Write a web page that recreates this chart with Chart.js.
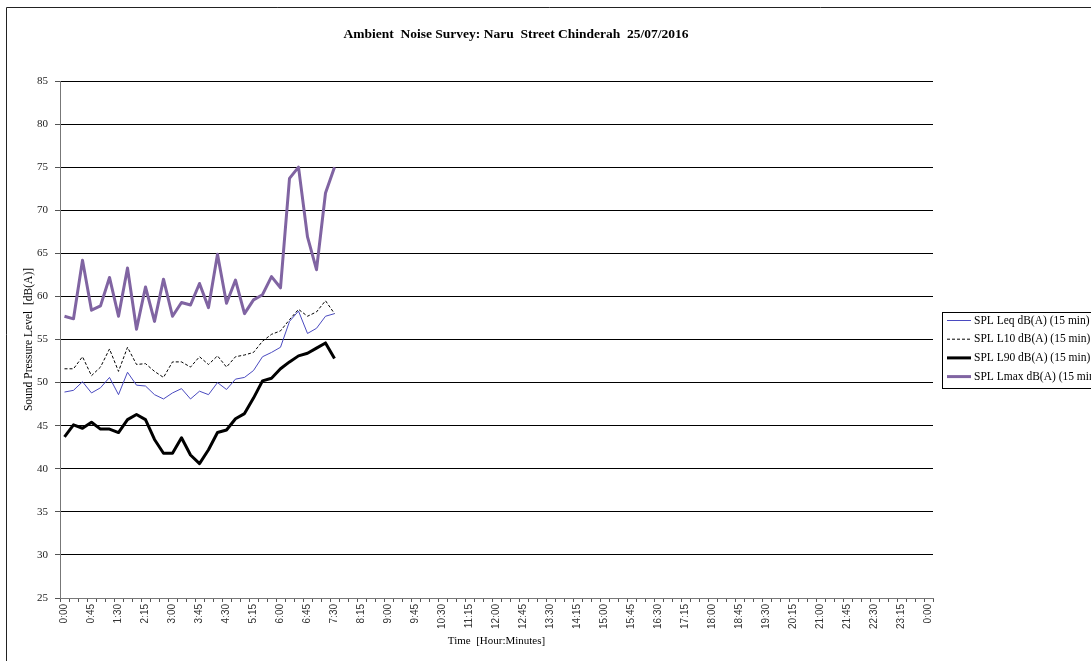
<!DOCTYPE html>
<html>
<head>
<meta charset="utf-8">
<script src="https://cdn.jsdelivr.net/npm/chart.js@4.4.1/dist/chart.umd.min.js"></script>
<style>
  html, body { margin: 0; padding: 0; background: #fff; overflow: hidden; }
  #wrap { width: 1091px; height: 661px; position: relative; }
</style>
</head>
<body>
<div id="wrap"><canvas id="c" width="1091" height="661"></canvas></div>
<script>
// ---- Data (15-minute intervals starting 0:00) ----
const chartTitle = 'Ambient  Noise Survey: Naru  Street Chinderah  25/07/2016';
const xAxisTitle = 'Time  [Hour:Minutes]';
const yAxisTitle = 'Sound Pressure Level  [dB(A)]';

// category axis: 0:00 to 0:00 next day every 15 minutes
const categories = [];
for (let m = 0; m <= 24 * 60; m += 15) {
  const h = Math.floor(m / 60) % 24, mm = m % 60;
  categories.push(h + ':' + (mm < 10 ? '0' : '') + mm);
}
// labels shown every 45 minutes
const tickLabels = ['0:00','0:45','1:30','2:15','3:00','3:45','4:30','5:15','6:00','6:45','7:30','8:15',
  '9:00','9:45','10:30','11:15','12:00','12:45','13:30','14:15','15:00','15:45','16:30','17:15',
  '18:00','18:45','19:30','20:15','21:00','21:45','22:30','23:15','0:00'];

const seriesNames = ['SPL Leq dB(A) (15 min)', 'SPL L10 dB(A) (15 min)', 'SPL L90 dB(A) (15 min)', 'SPL Lmax dB(A) (15 min)'];

const leq  = [48.9, 49.1, 50.1, 48.8, 49.4, 50.6, 48.6, 51.2, 49.7, 49.6, 48.6, 48.1, 48.8, 49.3, 48.1, 49.0,
              48.6, 50.0, 49.2, 50.4, 50.6, 51.4, 53.0, 53.5, 54.1, 57.1, 58.3, 55.7, 56.3, 57.7, 58.0];
const l10  = [51.6, 51.6, 53.0, 50.8, 51.8, 53.9, 51.3, 54.1, 52.1, 52.2, 51.3, 50.6, 52.4, 52.4, 51.8, 53.0,
              52.1, 53.1, 51.8, 53.0, 53.2, 53.5, 54.8, 55.6, 56.0, 57.3, 58.5, 57.7, 58.2, 59.5, 58.0];
const l90  = [43.7, 45.1, 44.7, 45.4, 44.6, 44.6, 44.2, 45.7, 46.3, 45.7, 43.4, 41.8, 41.8, 43.6, 41.6, 40.6,
              42.2, 44.2, 44.5, 45.8, 46.4, 48.2, 50.2, 50.5, 51.6, 52.4, 53.1, 53.4, 54.0, 54.6, 52.8];
const lmax = [57.7, 57.4, 64.2, 58.4, 58.9, 62.2, 57.7, 63.3, 56.2, 61.1, 57.1, 62.0, 57.7, 59.3, 59.0, 61.5,
              58.7, 64.9, 59.2, 61.9, 58.0, 59.6, 60.2, 62.3, 61.0, 73.7, 75.0, 66.9, 63.1, 72.0, 75.0];

const yMin = 25, yMax = 85, yStep = 5;

// ---- Plugins for frame, title and boxed legend ----
const framePlugin = {
  id: 'frame',
  beforeDraw(chart) {
    const ctx = chart.ctx;
    ctx.save();
    ctx.fillStyle = '#fff';
    ctx.fillRect(0, 0, chart.width, chart.height);
    ctx.strokeStyle = '#222';
    ctx.lineWidth = 1;
    ctx.beginPath();
    ctx.moveTo(6.5, chart.height + 5);
    ctx.lineTo(6.5, 7.5);
    ctx.lineTo(chart.width + 5, 7.5);
    ctx.stroke();
    ctx.restore();
  },
  afterDraw(chart) {
    const ctx = chart.ctx;
    ctx.save();
    // title
    ctx.fillStyle = '#000';
    ctx.font = 'bold 13.5px "Liberation Serif", serif';
    ctx.textAlign = 'center';
    ctx.textBaseline = 'middle';
    ctx.fillText(chartTitle, 516, 35);
    // legend box
    const bx = 942.5, by = 312.5, bh = 76;
    ctx.strokeStyle = '#000';
    ctx.lineWidth = 1;
    ctx.strokeRect(bx, by, 300, bh);
    ctx.font = '11.5px "Liberation Serif", serif';
    ctx.textAlign = 'left';
    chart.data.datasets.forEach((ds, i) => {
      const y = 320.5 + i * 18.7;
      ctx.save();
      ctx.strokeStyle = ds.borderColor;
      ctx.lineWidth = ds.borderWidth;
      ctx.setLineDash(ds.borderDash || []);
      ctx.beginPath();
      ctx.moveTo(947, y);
      ctx.lineTo(971, y);
      ctx.stroke();
      ctx.restore();
      ctx.fillStyle = '#000';
      ctx.fillText(ds.label, 974, y);
    });
    ctx.restore();
  }
};

new Chart(document.getElementById('c'), {
  type: 'line',
  data: {
    labels: categories,
    datasets: [
      { label: seriesNames[0], data: leq,  borderColor: '#4a4ac0', borderWidth: 1, pointRadius: 0, tension: 0, borderJoinStyle: 'round' },
      { label: seriesNames[1], data: l10,  borderColor: '#000', borderWidth: 1, borderDash: [3, 2], pointRadius: 0, tension: 0, borderJoinStyle: 'round' },
      { label: seriesNames[2], data: l90,  borderColor: '#000', borderWidth: 3, pointRadius: 0, tension: 0, borderJoinStyle: 'round' },
      { label: seriesNames[3], data: lmax, borderColor: '#8064a2', borderWidth: 3, pointRadius: 0, tension: 0, borderJoinStyle: 'round' }
    ]
  },
  options: {
    responsive: false,
    devicePixelRatio: 1,
    animation: false,
    layout: { padding: { top: 81, right: 158, left: 18, bottom: 9 } },
    plugins: { legend: { display: false }, title: { display: false }, tooltip: { enabled: false } },
    scales: {
      x: {
        type: 'category',
        offset: true,
        grid: { display: true, drawOnChartArea: false, drawTicks: true, tickLength: 4, color: '#555', offset: true },
        border: { display: true, color: '#777', width: 1 },
        ticks: {
          autoSkip: false, maxRotation: 90, minRotation: 90, padding: 2,
          color: '#333', font: { family: '"Liberation Sans", Arial, sans-serif', size: 10 },
          callback: function(v, i) { return i % 3 === 0 ? tickLabels[i / 3] : ''; }
        },
        title: { display: true, text: xAxisTitle, color: '#000', padding: { top: 4, bottom: 4 },
          font: { family: '"Liberation Serif", serif', size: 11 } },
        afterFit(scale) { scale.height = 54; }
      },
      y: {
        min: yMin, max: yMax,
        grid: { color: '#000', lineWidth: 1, drawTicks: true, tickLength: 5, tickColor: '#555' },
        border: { display: true, color: '#777', width: 1 },
        ticks: { stepSize: yStep, padding: 7, color: '#222',
          font: { family: '"Liberation Serif", serif', size: 11 } },
        title: { display: true, text: yAxisTitle, color: '#000', padding: { top: 4, bottom: 4 },
          font: { family: '"Liberation Serif", serif', size: 11.5 } },
        afterFit(scale) { scale.width = 42; }
      }
    }
  },
  plugins: [framePlugin]
});
</script>
</body>
</html>
